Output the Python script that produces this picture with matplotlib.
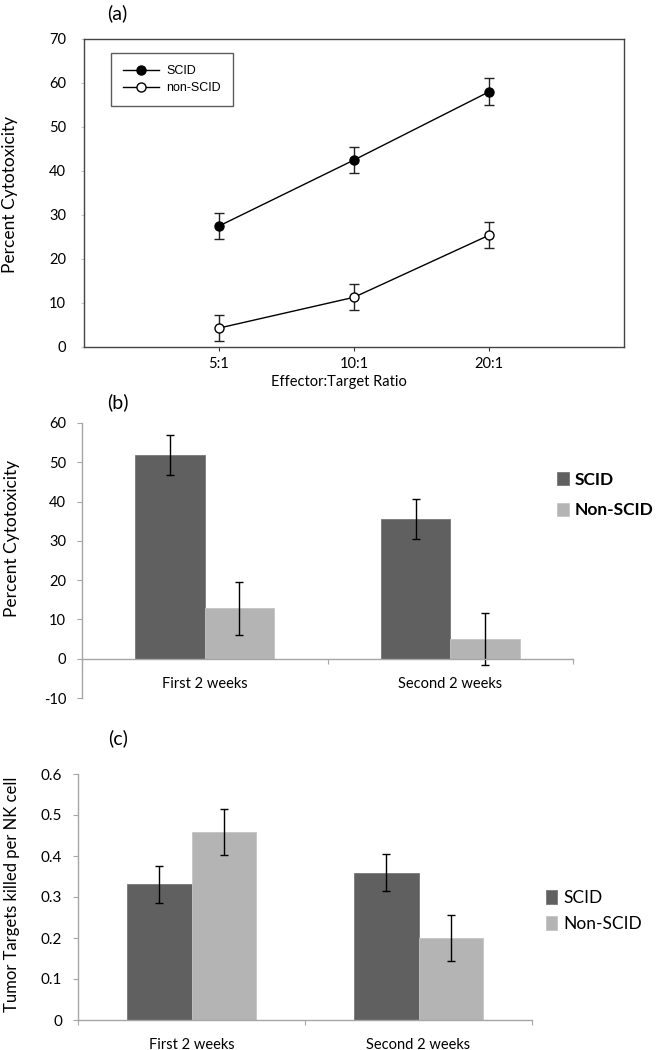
import matplotlib
matplotlib.use("Agg")
import matplotlib.pyplot as plt
import numpy as np

# ---------------- data ----------------
ratios = ["5:1", "10:1", "20:1"]
scid_a = [27.5, 42.5, 58.0]
scid_a_err = [2.9, 2.85, 3.1]
nonscid_a = [4.3, 11.3, 25.4]
nonscid_a_err = [2.9, 2.95, 2.95]

periods = ["First 2 weeks", "Second 2 weeks"]
scid_b = [51.9, 35.5]
scid_b_err = [5.1, 5.05]
nonscid_b = [12.8, 5.0]
nonscid_b_err = [6.7, 6.7]

scid_c = [0.331, 0.359]
scid_c_err = [0.045, 0.045]
nonscid_c = [0.459, 0.200]
nonscid_c_err = [0.056, 0.055]

series_labels_a = ["SCID", "non-SCID"]
series_labels_bc = ["SCID", "Non-SCID"]

# ---------------- style ----------------
FONT = "Lato"
W, H = 660, 1050
DARK = "#606060"
LIGHT = "#b4b4b4"
AXG = "#a6a6a6"

fig = plt.figure(figsize=(W / 100, H / 100), dpi=100)


def fx(px):
    return px / W


def fy(py):
    return 1 - py / H


def axes_px(l, t, r, b):
    return fig.add_axes([fx(l), fy(b), fx(r) - fx(l), (b - t) / H])


# ---------------- panel (a) ----------------
ax = axes_px(84, 39, 624, 347)
xa = np.arange(1, len(ratios) + 1)
eb1 = ax.errorbar(xa, scid_a, yerr=scid_a_err, color="black", lw=1.0, marker="o",
                  ms=6.5, mfc="black", mec="black", capsize=3.6, elinewidth=1.0,
                  ecolor="#222222")
eb2 = ax.errorbar(xa, nonscid_a, yerr=nonscid_a_err, color="black", lw=1.0, marker="o",
                  ms=6.5, mfc="white", mec="black", capsize=3.6, elinewidth=1.0,
                  ecolor="#222222")
ax.set_xlim(0, 4)
ax.set_ylim(0, 70)
ax.set_xticks(xa)
ax.set_xticklabels(ratios, fontfamily=FONT, fontsize=10.5)
ax.set_yticks(np.arange(0, 71, 10))
ax.set_yticklabels([str(v) for v in range(0, 71, 10)], fontfamily=FONT, fontsize=10.5)
ax.tick_params(axis="y", direction="out", length=2, color="#c8c8c8", pad=11)
ax.tick_params(axis="x", direction="out", length=3, color="#333333", pad=4)
for s in ax.spines.values():
    s.set_color("#444444")
    s.set_linewidth(1.0)
leg = ax.legend(handles=[eb1[0], eb2[0]], labels=series_labels_a,
                loc="upper left", bbox_to_anchor=((111 - 84) / 540, (347 - 53) / 308),
                prop={"family": "Liberation Sans", "size": 9}, frameon=True,
                fancybox=False, edgecolor="#333333", handlelength=2.9,
                borderpad=0.95, labelspacing=0.4, handletextpad=0.6,
                borderaxespad=0)
leg.get_frame().set_linewidth(1.0)
fig.text(fx(117), fy(13), "(a)", ha="center", va="center", fontfamily=FONT, fontsize=14)
fig.text(fx(10), fy(194), "Percent Cytotoxicity", rotation=90, ha="center",
         va="center", fontfamily=FONT, fontsize=12.5)
fig.text(fx(339), fy(382), "Effector:Target Ratio", ha="center", va="center",
         fontfamily=FONT, fontsize=10.5)


# ---------------- bar panel helper ----------------
def bar_panel(ax, scid, scid_err, non, non_err, width, ylim, yticks, ytl, fs_tick):
    x = np.arange(len(periods))
    b1 = ax.bar(x - width / 2, scid, width, color=DARK, edgecolor="#777777",
                linewidth=0.6, label=series_labels_bc[0])
    b2 = ax.bar(x + width / 2, non, width, color=LIGHT, edgecolor="#c4c4c4",
                linewidth=0.6, label=series_labels_bc[1])
    ax.errorbar(x - width / 2, scid, yerr=scid_err, fmt="none", ecolor="black",
                elinewidth=1.0, capsize=3)
    ax.errorbar(x + width / 2, non, yerr=non_err, fmt="none", ecolor="black",
                elinewidth=1.0, capsize=3)
    ax.set_xlim(-0.5, len(periods) - 0.5)
    ax.set_ylim(*ylim)
    for k in ["top", "right"]:
        ax.spines[k].set_visible(False)
    ax.spines["bottom"].set_position(("data", 0))
    for k in ["left", "bottom"]:
        ax.spines[k].set_color(AXG)
        ax.spines[k].set_linewidth(1.0)
    ax.set_yticks(yticks)
    ax.set_yticklabels(ytl, fontfamily=FONT, fontsize=fs_tick)
    ax.set_xticks(np.arange(-0.5, len(periods), 1.0))
    ax.set_xticklabels([])
    ax.set_xticks(x, minor=True)
    ax.set_xticklabels(periods, minor=True, fontfamily=FONT, fontsize=10.5)
    ax.tick_params(axis="y", direction="out", length=3.5, color=AXG, pad=8)
    ax.tick_params(axis="x", which="major", direction="out", length=3.5, color=AXG)
    ax.tick_params(axis="x", which="minor", length=0, pad=13)
    return b1, b2


# ---------------- panel (b) ----------------
axb = axes_px(82, 423, 573, 698)
b1, b2 = bar_panel(axb, scid_b, scid_b_err, nonscid_b, nonscid_b_err, 0.283,
                   (-10, 60), np.arange(-10, 61, 10),
                   [str(v) for v in range(-10, 61, 10)], 10.5)
fig.legend(handles=[b1, b2], labels=series_labels_bc, loc="center left",
           bbox_to_anchor=(fx(557), fy(495)), frameon=False,
           prop={"family": FONT, "size": 12.5, "weight": "bold"},
           handlelength=0.7, handleheight=0.75, handletextpad=0.3,
           labelspacing=0.85, borderpad=0, borderaxespad=0)
fig.text(fx(118), fy(402), "(b)", ha="center", va="center", fontfamily=FONT, fontsize=14)
fig.text(fx(12), fy(538), "Percent Cytotoxicity", rotation=90, ha="center",
         va="center", fontfamily=FONT, fontsize=12.5)

# ---------------- panel (c) ----------------
axc = axes_px(78, 774, 532, 1020)
c1, c2 = bar_panel(axc, scid_c, scid_c_err, nonscid_c, nonscid_c_err, 0.286,
                   (0, 0.6), np.round(np.arange(0, 0.61, 0.1), 1),
                   ["0", "0.1", "0.2", "0.3", "0.4", "0.5", "0.6"], 11)
fig.legend(handles=[c1, c2], labels=series_labels_bc, loc="center left",
           bbox_to_anchor=(fx(546), fy(911)), frameon=False,
           prop={"family": FONT, "size": 12.5},
           handlelength=0.65, handleheight=0.85, handletextpad=0.35,
           labelspacing=0.55, borderpad=0, borderaxespad=0)
fig.text(fx(118), fy(738), "(c)", ha="center", va="center", fontfamily=FONT, fontsize=14)
fig.text(fx(12), fy(894), "Tumor Targets killed per NK cell", rotation=90,
         ha="center", va="center", fontfamily=FONT, fontsize=12)

fig.savefig("out.png", dpi=100)
